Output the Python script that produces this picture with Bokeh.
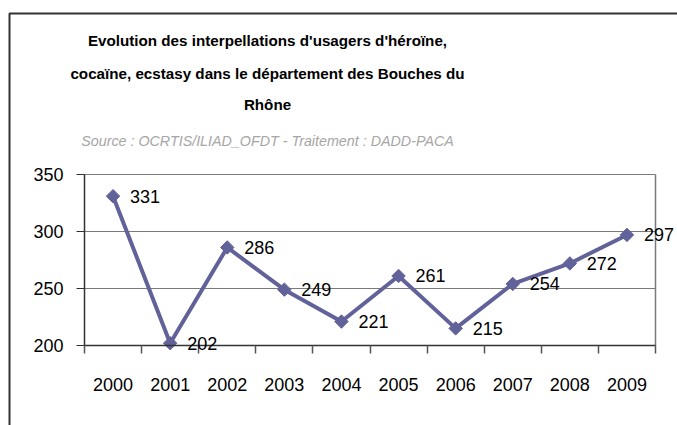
import math
from bokeh.plotting import figure
from bokeh.models import (ColumnDataSource, FixedTicker, LabelSet, Label,
                          BoxAnnotation, Range1d)
from bokeh.core.properties import value
from bokeh.embed import file_html
from bokeh.resources import INLINE

# ---- data ----
years = ["2000", "2001", "2002", "2003", "2004", "2005", "2006", "2007", "2008", "2009"]
values = [331, 202, 286, 249, 221, 261, 215, 254, 272, 297]
y_ticks = [200, 250, 300, 350]
title_lines = [
    "Evolution des interpellations d'usagers d'héroïne,",
    "cocaïne, ecstasy dans le département des Bouches du",
    "Rhône",
]
source_text = "Source : OCRTIS/ILIAD_OFDT - Traitement : DADD-PACA"

FONT = "Liberation Sans"
LINE = "#62629a"
GRID = "#7a7a7a"
AXIS = "#333333"

n = len(years)
xs = [i + 0.5 for i in range(n)]
src = ColumnDataSource(dict(x=xs, y=values, label=[str(v) for v in values]))
grid_src = ColumnDataSource(dict(x0=[0] * len(y_ticks), x1=[n] * len(y_ticks),
                                 y=y_ticks))

# canvas geometry (pixels)
W, H = 677, 425
PL, PR, PT, PB = 84, 655, 174, 345          # plot area inside canvas
ymin, ymax = y_ticks[0], y_ticks[-1]
kx = (PR - PL) / n
ky = (PB - PT) / (ymax - ymin)
x_range = Range1d(-PL / kx, n + (W - PR) / kx)
y_range = Range1d(ymin - (H - PB) / ky, ymax + PT / ky)

p = figure(width=W, height=H, output_backend="svg", toolbar_location=None,
           x_range=x_range, y_range=y_range, min_border=0)
p.background_fill_color = "white"
p.border_fill_color = "white"
p.outline_line_color = None
p.xgrid.visible = False
p.ygrid.visible = False

# horizontal grid lines and right edge of the plot area
p.segment(x0="x0", x1="x1", y0="y", y1="y", source=grid_src,
          line_color=GRID, line_width=1.2)
p.segment(x0=[n], x1=[n], y0=[ymin], y1=[ymax], line_color=GRID, line_width=1.5)

# y axis
ya = p.yaxis[0]
ya.fixed_location = 0
ya.bounds = (ymin, ymax)
ya.ticker = FixedTicker(ticks=y_ticks)
ya.axis_line_color = AXIS
ya.axis_line_width = 1.5
ya.major_tick_in = 0
ya.major_tick_out = 8
ya.major_tick_line_color = AXIS
ya.minor_tick_line_color = None
ya.major_label_standoff = 13
ya.major_label_text_font = FONT
ya.major_label_text_font_size = "18px"
ya.major_label_text_color = "#000000"

# x axis: labels at centers, ticks at boundaries
xa = p.xaxis[0]
xa.fixed_location = ymin
xa.bounds = (0, n)
xa.ticker = FixedTicker(ticks=xs, minor_ticks=list(range(n + 1)))
xa.major_label_overrides = {x: y for x, y in zip(xs, years)}
xa.axis_line_color = AXIS
xa.axis_line_width = 1.5
xa.major_tick_in = 0
xa.major_tick_out = 0
xa.minor_tick_in = 0
xa.minor_tick_out = 8
xa.minor_tick_line_color = "#555555"
xa.minor_tick_line_width = 1.5
xa.major_label_standoff = 24
xa.major_label_text_font = FONT
xa.major_label_text_font_size = "18px"
xa.major_label_text_color = "#000000"

# series
p.line("x", "y", source=src, line_color=LINE, line_width=4)
p.scatter("x", "y", source=src, marker="square", angle=math.pi / 4, size=9.5,
          fill_color=LINE, line_color=LINE)

labels = LabelSet(x="x", y="y", text="label", source=src, x_offset=17, y_offset=0,
                  text_baseline="middle", text_align="left",
                  text_font=value(FONT), text_font_size=value("18px"),
                  text_color="#000000")
p.add_layout(labels)

# titles (screen units: from canvas left, from canvas bottom)
cx = 267
for line, cy in zip(title_lines, [40, 73, 104]):
    p.add_layout(Label(x=cx, y=H - cy, x_units="screen", y_units="screen",
                       text=line, text_align="center", text_baseline="middle",
                       text_font=FONT, text_font_style="bold",
                       text_font_size="15.2px", text_color="#000000"))
p.add_layout(Label(x=cx, y=H - 140, x_units="screen", y_units="screen",
                   text=source_text, text_align="center", text_baseline="middle",
                   text_font=FONT, text_font_style="italic",
                   text_font_size="14.3px", text_color="#a6a6a6"))

# outer frame border (left and top visible; screen y measured from bottom)
p.add_layout(BoxAnnotation(left=9, right=W + 50, top=H - 13, bottom=-50,
                           left_units="screen", right_units="screen",
                           top_units="screen", bottom_units="screen",
                           fill_alpha=0, line_color="#333333", line_alpha=1.0,
                           line_width=2, level="overlay"))

open("out.html", "w").write(file_html(p, INLINE))
